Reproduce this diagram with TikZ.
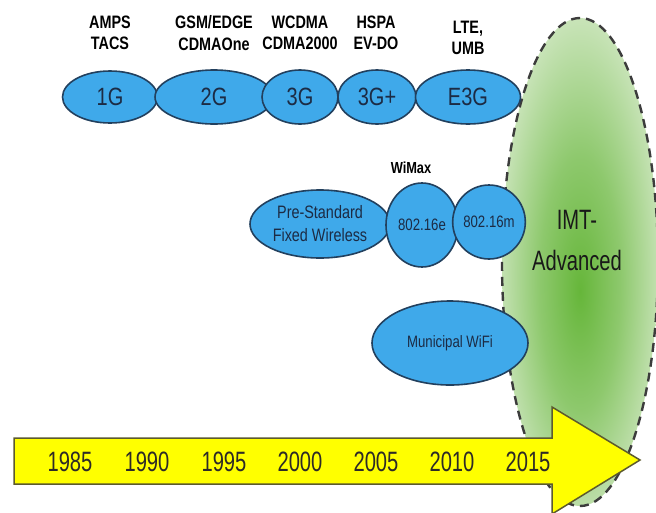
\documentclass[tikz,border=0pt]{standalone}
\usepackage{fontspec}
\setmainfont{Liberation Sans}[FakeStretch=0.8]
\newfontfamily\narrowfont{Liberation Sans}[FakeStretch=0.72]
\usetikzlibrary{shapes.geometric}
\definecolor{ovalblue}{HTML}{3FA9EA}
\definecolor{ovaledge}{HTML}{22405E}
\definecolor{ovaltext}{HTML}{1C2B44}
\definecolor{dashgray}{HTML}{3C3C3C}
\definecolor{arrowyellow}{HTML}{FFFF00}
\definecolor{arrowedge}{HTML}{5C5A2E}
\definecolor{glowgreen}{HTML}{66B63A}
\definecolor{palegreen}{HTML}{D8EBCC}
\pgfdeclareradialshading{imtglow}{\pgfpoint{0bp}{-3bp}}{color(0bp)=(glowgreen); color(13bp)=(glowgreen!65!palegreen); color(30bp)=(palegreen); color(50bp)=(palegreen!92!white)}
\tikzset{
  oval/.style={ellipse, draw=ovaledge, line width=1.6pt, fill=ovalblue, inner sep=0pt, text=ovaltext, align=center},
  bigtxt/.style={font=\fontsize{25}{25}\selectfont},
  midtxt/.style={font=\fontsize{16.5}{23}\selectfont},
  toplabel/.style={font=\bfseries\fontsize{18}{21.5}\selectfont, align=center, inner sep=0pt, text=black},
  yearlabel/.style={font=\narrowfont\fontsize{28}{28}\selectfont, inner sep=0pt, text=black!90!olive},
  imtlabel/.style={font=\narrowfont\fontsize{28}{41}\selectfont, align=center, inner sep=0pt, text=black!90},
}
\begin{document}
\begin{tikzpicture}[x=1pt,y=-1pt]
\useasboundingbox (0,0) rectangle (656,512);
% IMT-Advanced region
\shade[shading=imtglow] (580,262) ellipse [x radius=78pt, y radius=244pt];
\draw[dashgray, line width=2.4pt, dash pattern=on 9pt off 6pt] (580,262) ellipse [x radius=78pt, y radius=244pt];
\node[imtlabel] (imt) at (577,240) {IMT-\\Advanced};
% top row
\node[oval, bigtxt, minimum width=95pt, minimum height=52pt] (g1) at (110,97) {1G};
\node[oval, bigtxt, minimum width=118pt, minimum height=54pt] (g2) at (214,97) {2G};
\node[oval, bigtxt, minimum width=78pt, minimum height=54pt] (g3p) at (377,97) {3G+};
\node[oval, bigtxt, minimum width=76pt, minimum height=54pt] (g3) at (300,97) {3G};
\node[oval, bigtxt, minimum width=105pt, minimum height=54pt] (e3g) at (468,97) {E3G};
\node[toplabel] (l1) at (110,33) {AMPS\\TACS};
\node[toplabel] (l2) at (214,33) {GSM/EDGE\\CDMAOne};
\node[toplabel] (l3) at (300,33) {WCDMA\\CDMA2000};
\node[toplabel] (l4) at (376,33) {HSPA\\EV-DO};
\node[toplabel] (l5) at (468,38) {LTE,\\UMB};
% middle row
\node[oval, midtxt, font=\fontsize{18}{23}\selectfont, minimum width=140pt, minimum height=68pt] (pre) at (320,224) {Pre-Standard\\Fixed Wireless};
\node[oval, midtxt, minimum width=72pt, minimum height=84pt] (e16) at (422,225) {802.16e};
\node[oval, midtxt, minimum width=68pt, minimum height=74pt] (m16) at (489,222) {802.16m};
\node[toplabel, font=\bfseries\fontsize{16}{16}\selectfont] (wimax) at (411,168) {WiMax};
\node[oval, midtxt, minimum width=156pt, minimum height=84pt] (wifi) at (450,343) {Municipal WiFi};
% time arrow
\draw[fill=arrowyellow, draw=arrowedge, line width=1.5pt]
  (14,438) -- (552,438) -- (552,407) -- (640,460) -- (552,514) -- (552,484) -- (14,484) -- cycle;
\node[yearlabel] (y1985) at (70,462) {1985};
\node[yearlabel] (y1990) at (147,462) {1990};
\node[yearlabel] (y1995) at (224,462) {1995};
\node[yearlabel] (y2000) at (300,462) {2000};
\node[yearlabel] (y2005) at (376,462) {2005};
\node[yearlabel] (y2010) at (452,462) {2010};
\node[yearlabel] (y2015) at (528,462) {2015};
\end{tikzpicture}
\end{document}
